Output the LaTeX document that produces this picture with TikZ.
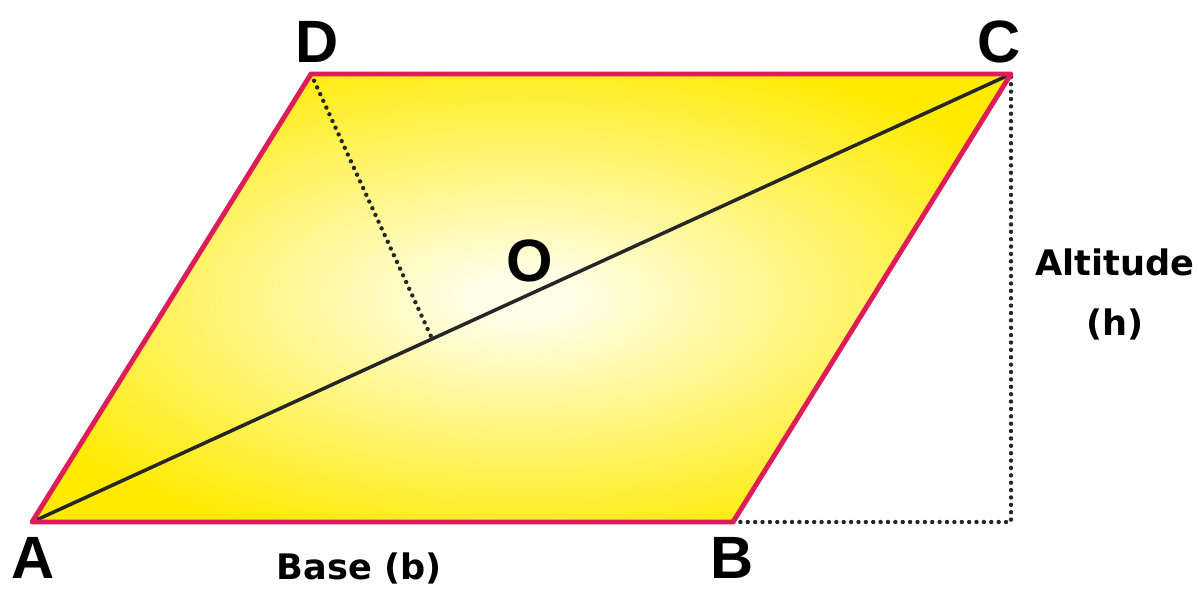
\documentclass[tikz,border=0pt]{standalone}
\usepackage{fontspec}
\setmainfont{Liberation Sans}
\newfontfamily\labelfont{DejaVu Sans}
\usetikzlibrary{calc}

\definecolor{edgered}{RGB}{222,28,88}
\definecolor{fillyellow}{RGB}{255,234,0}
\definecolor{paleyellow}{RGB}{255,254,228}
\pgfdeclareradialshading{glow}{\pgfpoint{0bp}{0bp}}{color(0bp)=(paleyellow); color(3bp)=(paleyellow); color(29bp)=(fillyellow); color(50bp)=(fillyellow)}

\begin{document}
\begin{tikzpicture}[x=0.02cm, y=-0.02cm,
    vertex/.style={font=\bfseries\fontsize{34}{34}\selectfont, inner sep=0pt, anchor=base},
    caption/.style={font=\labelfont\bfseries\fontsize{20}{34}\selectfont, inner sep=0pt, align=center, anchor=base},
    side/.style={draw=edgered, line width=2.8pt, line join=round},
    diag/.style={draw=black!85, line width=2pt},
    guide/.style={draw=black!85, line width=2.5pt, dash pattern=on 0pt off 4.2pt, line cap=round}
]
    \useasboundingbox (0,0) rectangle (1199,589);

    % corners of the parallelogram
    \coordinate (A) at (32,522);
    \coordinate (B) at (733,522);
    \coordinate (C) at (1011,74);
    \coordinate (D) at (311,74);
    \coordinate (E) at (C |- B);
    \coordinate (F) at ($(A)!(D)!(C)$);

    \shade[shading=glow] (A) -- (B) -- (C) -- (D) -- cycle;
    \draw[diag] (A) -- (C);
    \draw[guide] (D) -- (F);
    \draw[guide] (B) -- (E) -- (C);
    \draw[side] (A) -- (B) -- (C) -- (D) -- cycle;

    % labels
    \node[vertex] (lA) at (33,578) {A};
    \node[vertex] (lB) at (732,578) {B};
    \node[vertex] (lC) at (999,62) {C};
    \node[vertex] (lD) at (317,62) {D};
    \node[vertex] (lO) at (530,281) {O};
    \node[caption] (base) at (359,579) {Base (b)};
    \node[caption] (alt) at (1115,335) {Altitude\\(h)};
\end{tikzpicture}
\end{document}
